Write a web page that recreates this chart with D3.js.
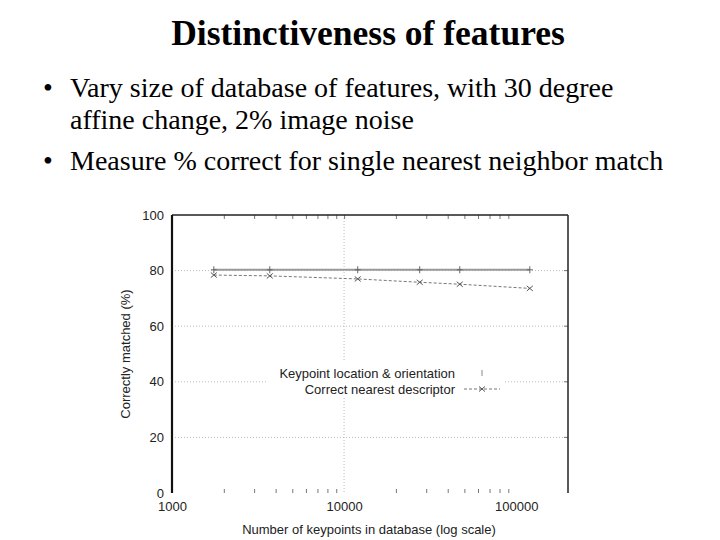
<!DOCTYPE html>
<html><head><meta charset="utf-8">
<script src="https://cdn.jsdelivr.net/npm/d3@7"></script>
<style>
body{margin:0;background:#fff;}
svg{display:block;}
</style></head>
<body>
<svg id="c" width="720" height="540"></svg>
<script>
const title = "Distinctiveness of features";
const bullets = [
  ["Vary size of database of features, with 30 degree", "affine change, 2% image noise"],
  ["Measure % correct for single nearest neighbor match"]
];
const dbSizes = [1750, 3700, 12000, 27500, 47000, 120000];
const keypointPct = [80.3, 80.3, 80.3, 80.3, 80.3, 80.3];
const descriptorPct = [78.4, 78.1, 77.0, 75.8, 75.1, 73.6];
const seriesNames = ["Keypoint location & orientation", "Correct nearest descriptor"];
const xMajor = [1000, 10000, 100000];
const xMinor = [2000,3000,4000,5000,6000,7000,8000,9000,20000,30000,40000,50000,60000,70000,80000,90000];
const yTicks = [0, 20, 40, 60, 80, 100];
const xTitle = "Number of keypoints in database (log scale)";
const yTitle = "Correctly matched (%)";

(function(){
const svg = d3.select("#c");
svg.append("rect").attr("width",720).attr("height",540).attr("fill","#fff");

// Header
const serif = "Liberation Serif, Times New Roman, serif";
svg.append("text").attr("x",368).attr("y",45).attr("text-anchor","middle")
  .attr("font-family",serif).attr("font-weight","bold")
  .attr("font-size",35.5).attr("fill","#000").text(title);
const lineY = [97, 129, 170];
let li = 0;
bullets.forEach(b => {
  b.forEach((t,i) => {
    if (i===0) svg.append("text").attr("x",43).attr("y",lineY[li]).attr("font-family",serif)
      .attr("font-size",28).attr("fill","#000").text("\u2022");
    svg.append("text").attr("x",70).attr("y",lineY[li]).attr("font-family",serif)
      .attr("font-size",28).attr("fill","#000").text(t);
    li++;
  });
});

// Chart
const L=172, R=568, T=215, B=493;
const x = d3.scaleLog().domain([1000,200000]).range([L,R]);
const y = d3.scaleLinear().domain([0,100]).range([B,T]);
const sans = "Liberation Sans, Arial, Helvetica, sans-serif";
const g = svg.append("g");

// grid
g.selectAll("line.hg").data(yTicks.filter(v=>v>0&&v<100)).enter().append("line")
  .attr("x1",L).attr("x2",R).attr("y1",d=>y(d)).attr("y2",d=>y(d))
  .attr("stroke","#bbb").attr("stroke-width",1).attr("stroke-dasharray","1,2");
g.append("line").attr("x1",x(10000)).attr("x2",x(10000)).attr("y1",T).attr("y2",B)
  .attr("stroke","#bbb").attr("stroke-width",1).attr("stroke-dasharray","1,2");

// minor/major ticks bottom and top
const botAxis = d3.axisBottom(x).tickValues(xMinor).tickSize(-4).tickFormat("");
const ga = g.append("g").attr("transform",`translate(0,${B})`).call(botAxis);
ga.select(".domain").remove();
ga.selectAll("line").attr("stroke","#777");
const topAxis = d3.axisTop(x).tickValues(xMinor.concat([10000])).tickSize(-4).tickFormat("");
const gt = g.append("g").attr("transform",`translate(0,${T})`).call(topAxis);
gt.select(".domain").remove();
gt.selectAll("line").attr("stroke","#777");
// tick labels x
const xl = d3.axisBottom(x).tickValues(xMajor).tickSize(0).tickPadding(9).tickFormat(d3.format("d"));
const gxl = g.append("g").attr("transform",`translate(0,${B})`).call(xl);
gxl.select(".domain").remove();
gxl.selectAll("text").attr("font-family",sans).attr("font-size",13).attr("fill","#222");
// y labels
const yl = d3.axisLeft(y).tickValues(yTicks).tickSize(0).tickPadding(8);
const gyl = g.append("g").attr("transform",`translate(${L},0)`).call(yl);
gyl.select(".domain").remove();
gyl.selectAll("text").attr("font-family",sans).attr("font-size",13).attr("fill","#222");
// right mirror ticks
g.selectAll("line.rt").data(yTicks.filter(v=>v>0&&v<100)).enter().append("line")
  .attr("x1",R-4).attr("x2",R).attr("y1",d=>y(d)).attr("y2",d=>y(d)).attr("stroke","#777");

// frame
g.append("line").attr("x1",L).attr("x2",R).attr("y1",T).attr("y2",T).attr("stroke","#222").attr("stroke-width",1.5);
g.append("line").attr("x1",R).attr("x2",R).attr("y1",T).attr("y2",B).attr("stroke","#222").attr("stroke-width",1.5);
g.append("line").attr("x1",L).attr("x2",L).attr("y1",T).attr("y2",B).attr("stroke","#111").attr("stroke-width",2.2);

// legend box
g.append("rect").attr("x",268).attr("y",362).attr("width",237).attr("height",34).attr("fill","#fff");

// series
const s1 = dbSizes.map((d,i)=>[d,keypointPct[i]]);
const s2 = dbSizes.map((d,i)=>[d,descriptorPct[i]]);
const line = d3.line().x(d=>x(d[0])).y(d=>y(d[1]));
g.append("path").attr("d",line(s1)).attr("fill","none").attr("stroke","#999").attr("stroke-width",2.2);
g.selectAll("path.p1").data(s1).enter().append("path")
  .attr("d",d=>`M${x(d[0])},${y(d[1])-3.5}V${y(d[1])+3.5}M${x(d[0])-3},${y(d[1])}H${x(d[0])+3}`)
  .attr("stroke","#666").attr("stroke-width",1);
g.append("path").attr("d",line(s2)).attr("fill","none").attr("stroke","#777").attr("stroke-width",1).attr("stroke-dasharray","3,2");
g.selectAll("path.p2").data(s2).enter().append("path")
  .attr("d",d=>{const cx=x(d[0]),cy=y(d[1]);return `M${cx-3},${cy-2.5}L${cx+3},${cy+2.5}M${cx-3},${cy+2.5}L${cx+3},${cy-2.5}`;})
  .attr("stroke","#555").attr("stroke-width",1);

// legend
g.append("text").attr("x",455).attr("y",378).attr("text-anchor","end").attr("font-family",sans)
  .attr("font-size",13).attr("fill","#222").text(seriesNames[0]);
g.append("text").attr("x",455).attr("y",394).attr("text-anchor","end").attr("font-family",sans)
  .attr("font-size",13).attr("fill","#222").text(seriesNames[1]);
g.append("line").attr("x1",482).attr("x2",482).attr("y1",370).attr("y2",376).attr("stroke","#888");
g.append("line").attr("x1",464).attr("x2",500).attr("y1",389).attr("y2",389).attr("stroke","#777").attr("stroke-dasharray","3,2");
g.append("path").attr("d","M479,386.5L485,391.5M479,391.5L485,386.5").attr("stroke","#555");

// axis titles
g.append("text").attr("x",369).attr("y",534).attr("text-anchor","middle").attr("font-family",sans)
  .attr("font-size",13).attr("fill","#222").text(xTitle);
g.append("text").attr("transform","translate(130,354) rotate(-90)").attr("text-anchor","middle")
  .attr("font-family",sans).attr("font-size",13).attr("fill","#222").text(yTitle);
})();
</script>
</body></html>
